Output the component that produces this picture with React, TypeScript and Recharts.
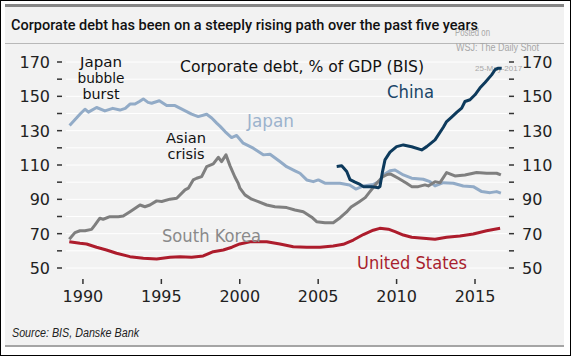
import React from 'react';
import { LineChart, Line, XAxis, YAxis, CartesianGrid } from 'recharts';

// corporate debt, % of GDP (BIS)
const japanYears = [
  1989.15, 1989.5, 1989.85, 1990.13, 1990.35, 1990.87, 1991.4, 1991.9, 1992.36, 1992.7, 1993.0,
  1993.32, 1993.6, 1993.85, 1994.15, 1994.38, 1994.87, 1995.34, 1995.87, 1996.4, 1996.93, 1997.35,
  1997.89, 1998.21, 1998.53, 1998.75, 1999.06, 1999.48, 1999.8, 2000.22, 2000.86, 2001.5, 2001.93,
  2002.56, 2002.99, 2003.52, 2003.84, 2004.27, 2004.69, 2005.01, 2005.43, 2006.39, 2007.0, 2007.4,
  2007.9, 2008.5, 2008.9, 2009.15, 2009.58, 2009.9, 2010.43, 2010.96, 2011.7, 2012.13, 2012.45,
  2012.98, 2013.62, 2014.25, 2014.89, 2015.43, 2015.96, 2016.38, 2016.65,
];
const japanDebt = [
  133, 136.5, 140, 142.5, 140.8, 143.5, 141.5, 143, 142, 143, 145.5,
  145.5, 147, 148.5, 146.5, 146, 147.4, 144.6, 144.6, 142.1, 139.6, 138.2,
  139.6, 137.4, 134.4, 132.5, 129.5, 126, 127.2, 122.7, 119.8, 115.9, 116.3,
  112, 109, 106.6, 105.2, 101.3, 100.3, 101.3, 99.4, 99.4, 98.4, 96,
  97.8, 98.6, 100.5, 104.2, 106.7, 107.1, 104.2, 102.3, 101.7, 100.3, 97.8,
  99.7, 99.4, 97.8, 97.4, 94.5, 93.9, 94.5, 93.6,
];

const koreaYears = [
  1989.13, 1989.49, 1989.81, 1990.13, 1990.55, 1990.77, 1991.08, 1991.29, 1991.72, 1992.25, 1992.57,
  1993.0, 1993.64, 1993.95, 1994.27, 1994.7, 1995.02, 1995.55, 1995.98, 1996.51, 1996.72, 1997.03,
  1997.25, 1997.57, 1997.89, 1998.31, 1998.63, 1998.84, 1999.12, 1999.38, 1999.69, 1999.9, 2000.01,
  2000.33, 2000.76, 2001.18, 2001.72, 2002.24, 2002.99, 2003.52, 2004.05, 2004.59, 2004.9, 2005.43,
  2005.96, 2006.4, 2006.8, 2007.1, 2007.6, 2008.0, 2008.3, 2008.73, 2009.1, 2009.4, 2009.6,
  2010.11, 2010.64, 2010.96, 2011.38, 2011.81, 2012.02, 2012.45, 2012.77, 2013.19, 2013.72, 2014.36,
  2015.1, 2015.74, 2016.38, 2016.65,
];
const koreaDebt = [
  66.7, 70.6, 71.7, 71.7, 72.5, 75.1, 79, 78.4, 79.9, 79.9, 80.3,
  82.8, 86.7, 85.7, 86.7, 89.1, 88.7, 90.1, 90.6, 95.5, 96.5, 101.3,
  102.3, 103.2, 109.1, 110.6, 114.5, 112, 115.9, 109.5, 103, 99.4, 96.5,
  92.6, 90.1, 88.7, 86.7, 85.7, 85.2, 83.8, 82.8, 79.6, 77, 76.4,
  76.4, 79.3, 82.5, 85.5, 88.5, 91, 94.5, 99.4, 103, 104.5, 104.8,
  102.3, 99.4, 97.4, 97.4, 98.4, 97.8, 100.3, 99.7, 105.6, 103.6, 104.2,
  105.6, 105.2, 105.2, 104.2,
];

const usYears = [
  1989.13, 1989.81, 1990.23, 1990.87, 1991.5, 1992.14, 1993.0, 1993.85, 1994.7, 1995.55, 1996.19,
  1996.93, 1997.67, 1998.31, 1998.95, 1999.5, 2000.0, 2000.65, 2001.72, 2002.56, 2003.41, 2004.27,
  2005.12, 2005.96, 2006.6, 2007.24, 2007.88, 2008.51, 2008.93, 2009.47, 2009.9, 2010.43, 2010.96,
  2011.7, 2012.45, 2013.19, 2014.04, 2014.89, 2015.74, 2016.6,
];
const usDebt = [
  65.3, 64.4, 64, 62.1, 60.5, 58.6, 56.6, 55.7, 55.2, 56.2, 56.6,
  56.2, 57, 59.5, 60.5, 62.1, 64, 65.3, 65.3, 64, 62.4, 62.1,
  62.1, 62.8, 63.8, 66.3, 69.5, 72, 73.1, 72.6, 71.2, 69.2, 67.9,
  67.3, 66.7, 67.9, 68.7, 69.8, 71.7, 73.1,
];

const chinaYears = [
  2006.18, 2006.5, 2006.82, 2007.03, 2007.35, 2007.67, 2007.88, 2008.41, 2008.83, 2008.94, 2009.1,
  2009.26, 2009.58, 2010.0, 2010.43, 2010.96, 2011.6, 2011.92, 2012.45, 2012.98, 2013.19, 2013.51,
  2013.83, 2014.15, 2014.36, 2014.68, 2015.0, 2015.31, 2015.64, 2016.06, 2016.28, 2016.49, 2016.7,
];
const chinaDebt = [
  109.1, 109.5, 106.2, 101.5, 100, 98.7, 97.4, 97.4, 96.8, 97.5, 106,
  113, 117.5, 120.7, 121.7, 120.6, 118.8, 120.7, 124.6, 132, 135.3, 137.9,
  140.6, 143.1, 147, 148, 150.9, 154.8, 158.1, 162.5, 165.5, 166.4, 166.4,
];

const yearTicks = [1990, 1995, 2000, 2005, 2010, 2015];
const debtTicks = [50, 60, 70, 80, 90, 100, 110, 120, 130, 140, 150, 160, 170];
const labelledTicks = [50, 70, 90, 110, 130, 150, 170];

const toPoints = (years: number[], debt: number[]) =>
  years.map((year, i) => ({ year, debt: debt[i] }));

const FONT = '"DejaVu Sans", sans-serif';

const LeftTick = ({ x, y, payload }: any) => (
  <g>
    <line x1={x - 9} x2={x - 4} y1={y} y2={y} stroke="#333" strokeWidth={1.5} />
    {labelledTicks.includes(payload.value) && (
      <text x={x - 16} y={y + 6} textAnchor="end" fontSize={16} fill="#222" fontFamily={FONT}>
        {payload.value}
      </text>
    )}
  </g>
);

const RightTick = ({ x, y, payload }: any) => (
  <g>
    <line x1={x + 2} x2={x + 7} y1={y} y2={y} stroke="#333" strokeWidth={1.5} />
    {labelledTicks.includes(payload.value) && (
      <text x={x + 15} y={y + 6} textAnchor="start" fontSize={16} fill="#222" fontFamily={FONT}>
        {payload.value}
      </text>
    )}
  </g>
);

const YearTick = ({ x, y, payload }: any) => (
  <g>
    <line x1={x} x2={x} y1={y + 11} y2={y + 16} stroke="#333" strokeWidth={1.5} />
    <text x={x} y={y + 34} textAnchor="middle" fontSize={16} fill="#222" fontFamily={FONT}>
      {payload.value}
    </text>
  </g>
);

export default function App() {
  const lineProps = {
    type: 'linear' as const,
    dataKey: 'debt',
    strokeWidth: 3,
    dot: false,
    isAnimationActive: false,
    strokeLinejoin: 'round' as const,
  };

  return (
    <div
      style={{
        position: 'absolute',
        left: 0,
        top: 0,
        width: 571,
        height: 356,
        background: '#fff',
        overflow: 'hidden',
      }}
    >
      {/* outer frame and grey panel */}
      <div
        style={{
          position: 'absolute',
          inset: 0,
          border: '1px solid #000',
          boxSizing: 'border-box',
        }}
      />
      <div
        style={{
          position: 'absolute',
          left: 5,
          top: 4,
          width: 559,
          height: 343,
          background: '#f2f2f2',
          borderTop: '3px solid #858585',
          borderBottom: '2px solid #a5a5a5',
          boxSizing: 'border-box',
        }}
      />
      <div style={{ position: 'absolute', left: 5, top: 43, width: 559, height: 1, background: '#b8b8b8' }} />

      {/* watermark, sits under the lines */}
      <svg width={571} height={356} style={{ position: 'absolute', left: 0, top: 0 }}>
        <g fontFamily='"Liberation Sans", sans-serif' fill="#a8a8a8">
          <text x={455} y={36} fontSize={10} textLength={35} lengthAdjust="spacingAndGlyphs">Posted on</text>
          <text x={456} y={51} fontSize={10} textLength={83} lengthAdjust="spacingAndGlyphs">WSJ: The Daily Shot</text>
          <text x={475} y={71} fontSize={8}>25-May-2017</text>
        </g>
      </svg>

      <div style={{ position: 'absolute', left: 0, top: 0 }}>
        <LineChart width={571} height={356} margin={{ top: 62, right: 0, bottom: 0, left: 0 }}>
          <CartesianGrid yAxisId="left" vertical={false} stroke="#ffffff" strokeWidth={1} />
          <XAxis
            type="number"
            dataKey="year"
            domain={[1988.92, 2017.04]}
            allowDataOverflow
            ticks={yearTicks}
            interval={0}
            height={88}
            axisLine={false}
            tickLine={false}
            tickSize={0}
            tickMargin={0}
            tick={(p: any) => <YearTick {...p} />}
          />
          <YAxis
            yAxisId="left"
            domain={[50, 170]}
            allowDataOverflow
            ticks={debtTicks}
            interval={0}
            width={66}
            axisLine={false}
            tickLine={false}
            tickSize={0}
            tickMargin={0}
            tick={(p: any) => <LeftTick {...p} />}
          />
          <YAxis
            yAxisId="right"
            orientation="right"
            domain={[50, 170]}
            allowDataOverflow
            ticks={debtTicks}
            interval={0}
            width={64}
            axisLine={false}
            tickLine={false}
            tickSize={0}
            tickMargin={0}
            tick={(p: any) => <RightTick {...p} />}
          />
          <Line {...lineProps} yAxisId="left" data={toPoints(japanYears, japanDebt)} stroke="#92abc7" name="Japan" />
          <Line {...lineProps} yAxisId="left" data={toPoints(koreaYears, koreaDebt)} stroke="#7f7f7f" name="South Korea" />
          <Line {...lineProps} yAxisId="left" data={toPoints(usYears, usDebt)} stroke="#ad1c2c" name="United States" />
          <Line {...lineProps} yAxisId="right" data={toPoints(chinaYears, chinaDebt)} stroke="#0d3a5c" name="China" />
        </LineChart>
      </div>

      {/* title, annotations, source */}
      <svg width={571} height={356} style={{ position: 'absolute', left: 0, top: 0, pointerEvents: 'none' }}>
        <text
          x={11}
          y={30}
          fontFamily="Roboto, sans-serif"
          fontWeight={500}
          fontSize={14}
          fill="#111"
          textLength={467}
          lengthAdjust="spacingAndGlyphs"
        >
          Corporate debt has been on a steeply rising path over the past five years
        </text>
        <text x={180} y={72} fontFamily={FONT} fontSize={16} fill="#111" textLength={244} lengthAdjust="spacingAndGlyphs">
          Corporate debt, % of GDP (BIS)
        </text>
        <g fontFamily={FONT} fontSize={13.5} fill="#111" textAnchor="middle">
          <text x={101} y={67} textLength={42} lengthAdjust="spacingAndGlyphs">Japan</text>
          <text x={101} y={83} textLength={47} lengthAdjust="spacingAndGlyphs">bubble</text>
          <text x={101} y={99} textLength={37} lengthAdjust="spacingAndGlyphs">burst</text>
          <text x={186} y={143} textLength={40} lengthAdjust="spacingAndGlyphs">Asian</text>
          <text x={186} y={159} textLength={37} lengthAdjust="spacingAndGlyphs">crisis</text>
        </g>
        <g fontFamily={FONT} fontSize={17}>
          <text x={247} y={127} fill="#9cb3cd" textLength={47} lengthAdjust="spacingAndGlyphs">Japan</text>
          <text x={387} y={98} fill="#1a4668" textLength={47} lengthAdjust="spacingAndGlyphs">China</text>
          <text x={162} y={242} fill="#8a8a8a" textLength={99} lengthAdjust="spacingAndGlyphs">South Korea</text>
          <text x={357} y={269} fill="#a81e2e" textLength={110} lengthAdjust="spacingAndGlyphs">United States</text>
        </g>
        <text
          x={12}
          y={337}
          fontFamily='"Liberation Sans", sans-serif'
          fontStyle="italic"
          fontSize={12}
          fill="#222"
          textLength={127}
          lengthAdjust="spacingAndGlyphs"
        >
          Source: BIS, Danske Bank
        </text>
      </svg>
    </div>
  );
}
